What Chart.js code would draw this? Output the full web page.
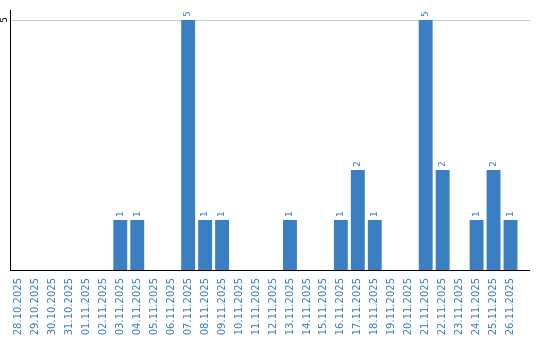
<!DOCTYPE html>
<html>
<head>
<meta charset="utf-8">
<script src="https://cdn.jsdelivr.net/npm/chart.js@4"></script>
<style>
  html, body { margin: 0; padding: 0; background: #fff; }
  #wrap { width: 540px; height: 340px; }
</style>
</head>
<body>
<div id="wrap"><canvas id="chart"></canvas></div>
<script>
const days = [
  '28.10.2025', '29.10.2025', '30.10.2025', '31.10.2025', '01.11.2025',
  '02.11.2025', '03.11.2025', '04.11.2025', '05.11.2025', '06.11.2025',
  '07.11.2025', '08.11.2025', '09.11.2025', '10.11.2025', '11.11.2025',
  '12.11.2025', '13.11.2025', '14.11.2025', '15.11.2025', '16.11.2025',
  '17.11.2025', '18.11.2025', '19.11.2025', '20.11.2025', '21.11.2025',
  '22.11.2025', '23.11.2025', '24.11.2025', '25.11.2025', '26.11.2025'
];
const counts = [0, 0, 0, 0, 0, 0, 1, 1, 0, 0, 5, 1, 1, 0, 0, 0, 1, 0, 0, 1, 2, 1, 0, 0, 5, 2, 0, 1, 2, 1];
const yTicks = [5];

const blue = '#3b7ec2';
const font = 'DejaVu Sans';

// values on top of the bars, rotated like the reference
const barValues = {
  id: 'barValues',
  afterDatasetsDraw (chart) {
    const ctx = chart.ctx;
    const meta = chart.getDatasetMeta(0);
    ctx.save();
    ctx.fillStyle = blue;
    ctx.font = '9px "' + font + '"';
    ctx.textAlign = 'left';
    ctx.textBaseline = 'middle';
    meta.data.forEach((bar, i) => {
      if (!counts[i]) return;
      ctx.save();
      ctx.translate(bar.x, bar.y - 3);
      ctx.rotate(-Math.PI / 2);
      ctx.fillText(String(counts[i]), 0, 0);
      ctx.restore();
    });
    ctx.restore();
  }
};

// rotated y tick labels, plus grid/axis lines running a bit past the last bar
const yLabels = {
  id: 'yLabels',
  afterDraw (chart) {
    const ctx = chart.ctx;
    const y = chart.scales.y;
    const area = chart.chartArea;
    ctx.save();
    ctx.fillStyle = '#000';
    ctx.font = '9px "' + font + '"';
    ctx.textAlign = 'center';
    ctx.textBaseline = 'middle';
    yTicks.forEach(v => {
      const py = y.getPixelForValue(v);
      ctx.save();
      ctx.translate(area.left - 5, py);
      ctx.rotate(-Math.PI / 2);
      ctx.fillText(String(v), 0, 0);
      ctx.restore();
      ctx.strokeStyle = '#cccccc';
      ctx.lineWidth = 1;
      ctx.beginPath();
      ctx.moveTo(area.right, Math.round(py) + 0.5);
      ctx.lineTo(area.right + 11, Math.round(py) + 0.5);
      ctx.stroke();
    });
    ctx.strokeStyle = '#000';
    ctx.lineWidth = 1;
    ctx.beginPath();
    ctx.moveTo(area.right, Math.round(area.bottom) + 0.5);
    ctx.lineTo(area.right + 11, Math.round(area.bottom) + 0.5);
    ctx.stroke();
    ctx.restore();
  }
};

new Chart(document.getElementById('chart'), {
  type: 'bar',
  data: {
    labels: days,
    datasets: [{
      data: counts,
      backgroundColor: blue,
      borderWidth: 0,
      categoryPercentage: 1,
      barPercentage: 0.82
    }]
  },
  options: {
    responsive: true,
    maintainAspectRatio: false,
    animation: false,
    layout: { padding: { left: 0, right: 21, top: 10, bottom: 0 } },
    plugins: {
      legend: { display: false },
      tooltip: { enabled: false }
    },
    scales: {
      x: {
        afterFit (scale) { scale.height = 70; },
        grid: { display: false },
        border: { display: true, color: '#000', width: 1 },
        ticks: {
          color: blue,
          font: { family: font, size: 10 },
          minRotation: 90,
          maxRotation: 90,
          autoSkip: false,
          padding: 0
        }
      },
      y: {
        min: 0,
        max: 5.2,
        afterFit (scale) { scale.width = 10; },
        afterBuildTicks (scale) {
          scale.ticks = yTicks.map(v => ({ value: v }));
        },
        grid: { color: '#cccccc', drawTicks: false },
        border: { display: true, color: '#000', width: 1 },
        ticks: { display: false }
      }
    }
  },
  plugins: [barValues, yLabels]
});
</script>
</body>
</html>
